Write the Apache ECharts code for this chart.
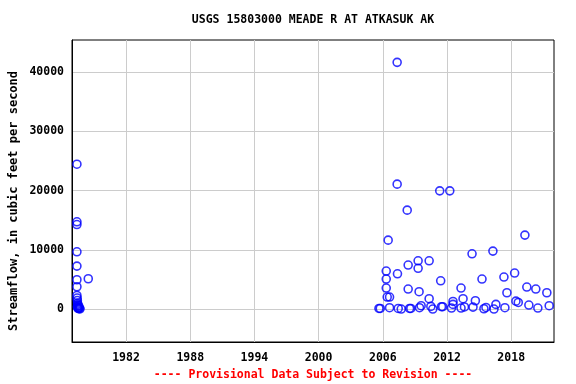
<!DOCTYPE html>
<html>
<head>
<meta charset="utf-8">
<script src="https://cdn.jsdelivr.net/npm/echarts@6/dist/echarts.min.js"></script>
<style>html,body{margin:0;padding:0;background:#fff}#c{width:576px;height:384px}</style>
</head>
<body>
<div id="c"></div>
<script>
var titleText = "USGS 15803000 MEADE R AT ATKASUK AK";
var yAxisName = "Streamflow, in cubic feet per second";
var footerText = "---- Provisional Data Subject to Revision ----";
var xTicks = [1982, 1988, 1994, 2000, 2006, 2012, 2018];
var yTicks = [0, 10000, 20000, 30000, 40000];

// Early record (decimal year, cfs)
var earlyYears = [1977.41, 1977.41, 1977.41, 1977.41, 1977.41, 1977.41, 1978.47, 1977.41, 1977.41, 1977.43, 1977.45, 1977.47, 1977.5, 1977.52, 1977.55, 1977.45, 1977.5, 1977.6, 1977.65, 1977.7, 1977.48, 1977.58];
var earlyFlows = [24450, 14720, 14260, 9660, 7250, 4940, 5110, 3760, 2290, 1850, 1450, 1010, 610, 270, 60, 400, 150, 200, 100, 30, 800, 500];

// Recent record (decimal year, cfs)
var recentYears = [2005.64, 2005.76, 2006.32, 2006.32, 2006.32, 2006.41, 2006.63, 2006.50, 2006.63,
  2007.34, 2007.34, 2007.37, 2007.44, 2007.72, 2008.28, 2008.37, 2008.37, 2008.50, 2008.62,
  2009.30, 2009.30, 2009.39, 2009.43, 2009.58, 2010.33, 2010.33, 2010.49, 2010.67,
  2011.32, 2011.41, 2011.48, 2011.60, 2012.26, 2012.42, 2012.56, 2012.56,
  2013.31, 2013.31, 2013.50, 2013.63, 2014.34, 2014.43, 2014.65, 2015.27, 2015.45, 2015.64,
  2016.29, 2016.39, 2016.57, 2017.32, 2017.41, 2017.60, 2018.32, 2018.44, 2018.66,
  2019.28, 2019.46, 2019.65, 2020.30, 2020.49, 2021.33, 2021.55];
var recentFlows = [100, 100, 6410, 5060, 3540, 2020, 2020, 11630, 220,
  41640, 21080, 5950, 100, 0, 16690, 7420, 3370, 100, 100,
  8140, 6880, 2920, 220, 560, 8140, 1740, 440, 0,
  19950, 4770, 390, 390, 19950, 170, 1280, 780,
  3540, 170, 1740, 350, 9320, 330, 1400, 5060, 50, 270,
  9780, 0, 780, 5400, 220, 2750, 6070, 1330, 1110,
  12480, 3710, 670, 3370, 170, 2750, 560];

function pairs(xs, ys) { return xs.map(function (x, i) { return [x, ys[i]]; }); }

var FONT = "DejaVu Sans Mono";
var chart = echarts.init(document.getElementById('c'));
chart.setOption({
  animation: false,
  backgroundColor: '#ffffff',
  grid: { left: 72, right: 22, top: 40, bottom: 42, show: true, borderColor: '#000', borderWidth: 1, backgroundColor: 'transparent' },
  xAxis: {
    type: 'value', min: 1976.95, max: 2022.0,
    axisLine: { show: true, onZero: false, lineStyle: { color: '#000', width: 1 } },
    axisTick: { show: false, customValues: xTicks },
    axisLabel: { customValues: xTicks, margin: 10, color: '#000', fontFamily: FONT, fontWeight: 'bold', fontSize: 11.5,
      formatter: function (v) { return String(v); } },
    splitLine: { show: true, customValues: xTicks, lineStyle: { color: '#cccccc', width: 1 } }
  },
  yAxis: {
    type: 'value', min: -5565, max: 45410,
    axisLine: { show: true, onZero: false, lineStyle: { color: '#000', width: 1 } },
    axisTick: { show: false, customValues: yTicks },
    axisLabel: { customValues: yTicks, margin: 8, color: '#000', fontFamily: FONT, fontWeight: 'bold', fontSize: 11.5,
      formatter: function (v) { return String(v); } },
    splitLine: { show: true, customValues: yTicks, lineStyle: { color: '#cccccc', width: 1 } }
  },
  graphic: [
    { type: 'text', position: [313, 20], style: { text: titleText, align: 'center', verticalAlign: 'middle', font: 'bold 11.5px "DejaVu Sans Mono"', fill: '#000' } },
    { type: 'text', position: [14, 201], rotation: Math.PI / 2, style: { text: yAxisName, align: 'center', verticalAlign: 'middle', font: 'bold 12px "DejaVu Sans Mono"', fill: '#000' } },
    { type: 'text', position: [313, 375], style: { text: footerText, align: 'center', verticalAlign: 'middle', font: 'bold 11.5px "DejaVu Sans Mono"', fill: '#ff0000' } }
  ],
  series: [
    { type: 'scatter', data: pairs(earlyYears, earlyFlows), symbol: 'circle', symbolSize: 8,
      itemStyle: { color: 'transparent', borderColor: '#0000ff', borderWidth: 1.6 } },
    { type: 'scatter', data: pairs(recentYears, recentFlows), symbol: 'circle', symbolSize: 8,
      itemStyle: { color: 'transparent', borderColor: '#0000ff', borderWidth: 1.6 } }
  ]
});
</script>
</body>
</html>
